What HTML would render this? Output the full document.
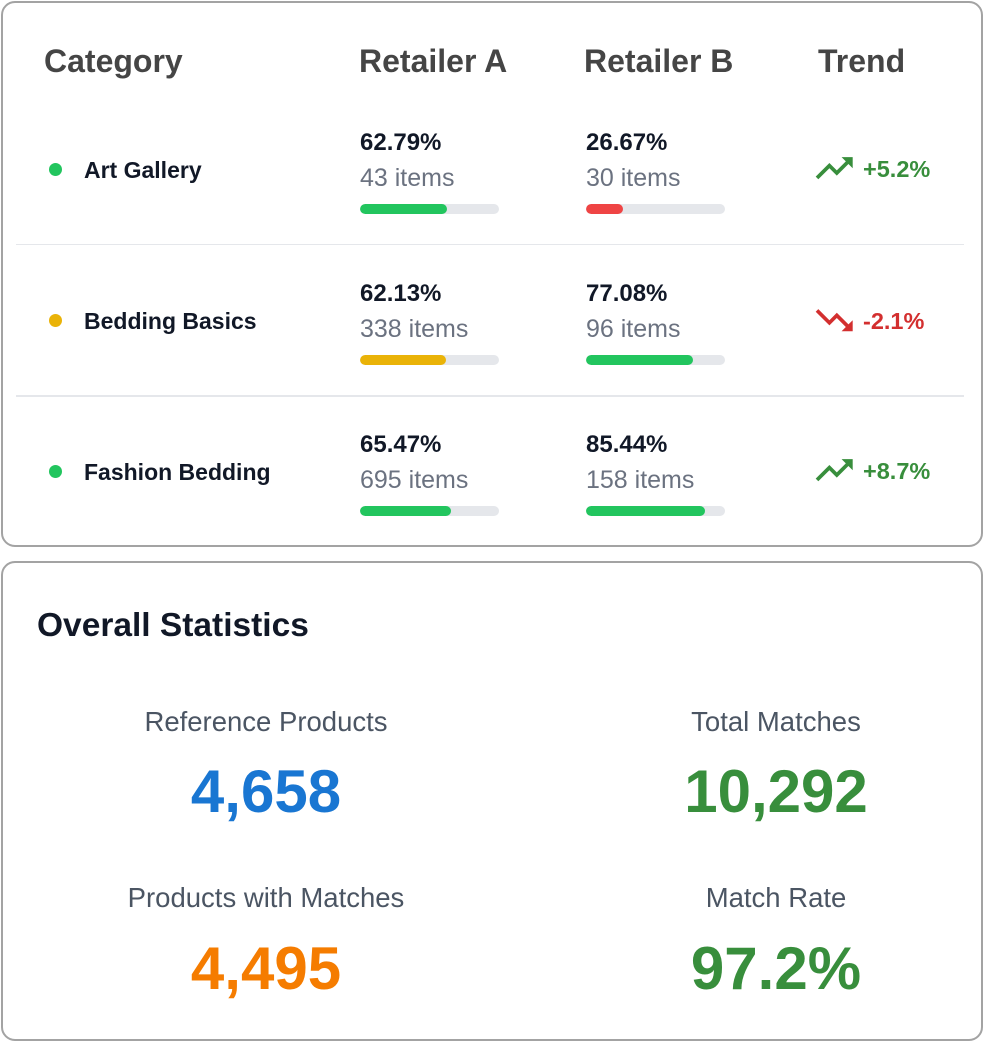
<!DOCTYPE html>
<html>
<head>
<meta charset="utf-8">
<style>
  html,body{margin:0;padding:0;background:#fff;}
  body{width:984px;height:1042px;position:relative;overflow:hidden;font-family:"Liberation Sans",Arial,sans-serif;}
  .card{position:absolute;box-sizing:border-box;border:2px solid #a3a3a3;border-radius:14px;background:#fff;}
  .t{position:absolute;white-space:nowrap;line-height:1;}
  .hdr{font-size:32px;font-weight:bold;color:#454545;}
  .name{font-size:23px;font-weight:bold;color:#111827;}
  .pct{font-size:24px;font-weight:bold;color:#111827;}
  .items{font-size:25px;color:#6b7280;}
  .bar{position:absolute;height:10px;width:139px;border-radius:5px;background:#e5e7eb;overflow:hidden;}
  .bar i{position:absolute;left:0;top:0;bottom:0;border-radius:5px;}
  .dot{position:absolute;width:13px;height:13px;border-radius:50%;}
  .sep{position:absolute;left:16px;width:948px;height:1.5px;background:#e5e7eb;}
  .trend{font-size:23.5px;font-weight:bold;}
  .up{color:#388e3c;}
  .down{color:#d32f2f;}
  .lbl{position:absolute;width:420px;text-align:center;font-size:27.5px;color:#4b5563;line-height:1;white-space:nowrap;}
  .num{position:absolute;width:420px;text-align:center;font-size:60px;font-weight:bold;line-height:1;white-space:nowrap;}
</style>
</head>
<body>

<div class="card" style="left:1px;top:1px;width:982px;height:546px;"></div>

<!-- headers -->
<div class="t hdr" style="left:44px;top:45px;">Category</div>
<div class="t hdr" style="left:359px;top:45px;">Retailer A</div>
<div class="t hdr" style="left:584px;top:45px;">Retailer B</div>
<div class="t hdr" style="left:818px;top:45px;">Trend</div>

<!-- Row 1 -->
<div class="dot" style="left:48.5px;top:162.5px;background:#22c55e;"></div>
<div class="t name" style="left:84px;top:158.5px;">Art Gallery</div>
<div class="t pct" style="left:360px;top:130.7px;">62.79%</div>
<div class="t items" style="left:360px;top:165.8px;">43 items</div>
<div class="bar" style="left:360px;top:204px;"><i style="width:87px;background:#22c55e;"></i></div>
<div class="t pct" style="left:586px;top:130.7px;">26.67%</div>
<div class="t items" style="left:586px;top:165.8px;">30 items</div>
<div class="bar" style="left:586px;top:204px;"><i style="width:37px;background:#ef4444;"></i></div>
<svg style="position:absolute;left:812.3px;top:145.9px;" width="44.4" height="44.4" viewBox="0 0 24 24"><path fill="#388e3c" d="M16 6l2.29 2.29-4.88 4.88-4-4L2 16.59 3.41 18l6-6 4 4 6.3-6.29L22 12V6z"/></svg>
<div class="t trend up" style="left:863px;top:158.1px;">+5.2%</div>

<div class="sep" style="top:243.5px;"></div>

<!-- Row 2 -->
<div class="dot" style="left:48.5px;top:313.5px;background:#eab308;"></div>
<div class="t name" style="left:84px;top:309.5px;">Bedding Basics</div>
<div class="t pct" style="left:360px;top:281.7px;">62.13%</div>
<div class="t items" style="left:360px;top:316.8px;">338 items</div>
<div class="bar" style="left:360px;top:355px;"><i style="width:86px;background:#eab308;"></i></div>
<div class="t pct" style="left:586px;top:281.7px;">77.08%</div>
<div class="t items" style="left:586px;top:316.8px;">96 items</div>
<div class="bar" style="left:586px;top:355px;"><i style="width:107px;background:#22c55e;"></i></div>
<svg style="position:absolute;left:812.3px;top:297.9px;" width="44.4" height="44.4" viewBox="0 0 24 24"><path fill="#d32f2f" d="M16 18l2.29-2.29-4.88-4.88-4 4L2 7.41 3.41 6l6 6 4-4 6.3 6.29L22 12v6z"/></svg>
<div class="t trend down" style="left:863px;top:310.1px;">-2.1%</div>

<div class="sep" style="top:395px;"></div>

<!-- Row 3 -->
<div class="dot" style="left:48.5px;top:464.5px;background:#22c55e;"></div>
<div class="t name" style="left:84px;top:460.5px;">Fashion Bedding</div>
<div class="t pct" style="left:360px;top:432.7px;">65.47%</div>
<div class="t items" style="left:360px;top:467.8px;">695 items</div>
<div class="bar" style="left:360px;top:506px;"><i style="width:91px;background:#22c55e;"></i></div>
<div class="t pct" style="left:586px;top:432.7px;">85.44%</div>
<div class="t items" style="left:586px;top:467.8px;">158 items</div>
<div class="bar" style="left:586px;top:506px;"><i style="width:119px;background:#22c55e;"></i></div>
<svg style="position:absolute;left:812.3px;top:447.9px;" width="44.4" height="44.4" viewBox="0 0 24 24"><path fill="#388e3c" d="M16 6l2.29 2.29-4.88 4.88-4-4L2 16.59 3.41 18l6-6 4 4 6.3-6.29L22 12V6z"/></svg>
<div class="t trend up" style="left:863px;top:460.1px;">+8.7%</div>

<!-- Card 2 -->
<div class="card" style="left:1px;top:561px;width:982px;height:480px;"></div>
<div class="t" style="left:37px;top:608.6px;font-size:33.5px;font-weight:bold;color:#111827;">Overall Statistics</div>

<div class="lbl" style="left:56px;top:708.4px;">Reference Products</div>
<div class="num" style="left:56px;top:762px;color:#1976d2;">4,658</div>
<div class="lbl" style="left:566px;top:708.4px;">Total Matches</div>
<div class="num" style="left:566px;top:762px;color:#388e3c;">10,292</div>

<div class="lbl" style="left:56px;top:883.7px;">Products with Matches</div>
<div class="num" style="left:56px;top:939px;color:#f57c00;">4,495</div>
<div class="lbl" style="left:566px;top:883.7px;">Match Rate</div>
<div class="num" style="left:566px;top:939px;color:#388e3c;">97.2%</div>

</body>
</html>
